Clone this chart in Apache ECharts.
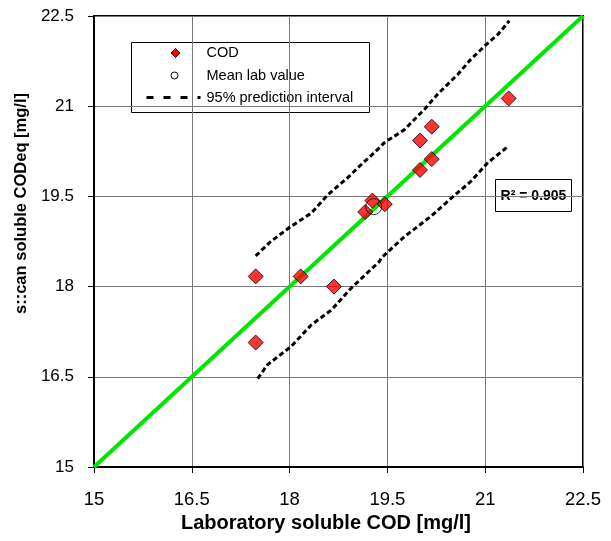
<!DOCTYPE html>
<html>
<head>
<meta charset="utf-8">
<script src="https://cdn.jsdelivr.net/npm/echarts@6/dist/echarts.min.js"></script>
<style>
  html, body { margin: 0; padding: 0; background: #fff; }
  #chart { width: 611px; height: 541px; }
</style>
</head>
<body>
<div id="chart"></div>
<script>
// Laboratory soluble COD vs. s::can soluble CODeq (mg/l)
const labCOD  = [17.48, 17.48, 18.17, 18.68, 19.16, 19.27, 19.46, 20.00, 20.18, 20.00, 20.18, 21.36];
const scanCOD = [18.17, 17.07, 18.17, 18.00, 19.24, 19.43, 19.37, 20.43, 20.66, 19.94, 20.12, 21.13];

// mean of the laboratory samples
const meanLab = [19.29, 19.33];

// 95 % prediction interval bounds [lab, scan]
const upperPI = [
  [17.48, 18.51], [17.71, 18.75], [18.02, 19.00], [18.33, 19.22], [18.59, 19.53],
  [18.89, 19.81], [19.10, 20.03], [19.38, 20.31], [19.45, 20.39], [19.76, 20.61],
  [20.07, 20.95], [20.27, 21.20], [20.58, 21.53], [20.78, 21.78], [21.02, 22.03],
  [21.20, 22.20], [21.37, 22.42]
];
const lowerPI = [
  [17.51, 16.47], [17.66, 16.70], [18.02, 17.00], [18.33, 17.36], [18.64, 17.61],
  [18.94, 17.97], [19.38, 18.42], [19.40, 18.47], [19.76, 18.83], [20.17, 19.17],
  [20.48, 19.47], [20.78, 19.75], [21.04, 20.06], [21.35, 20.33]
];

// 1:1 reference line end points
const identityEnds = [15, 22.5];

// axis range and tick spacing
const axisMin = 15, axisMax = 22.5, axisStep = 1.5;

const rSquared = '0.905';

const FONT = 'Liberation Sans, Arial, sans-serif';

const chart = echarts.init(document.getElementById('chart'), null, { renderer: 'canvas' });

const axisCommon = {
  type: 'value',
  min: axisMin,
  max: axisMax,
  interval: axisStep,
  axisLine: { show: true, onZero: false, lineStyle: { color: '#000', width: 2 } },
  axisTick: { show: true, inside: false, length: 6, lineStyle: { color: '#000', width: 1 } },
  splitLine: { show: true, lineStyle: { color: '#7a7a7a', width: 1 } },
  nameLocation: 'middle'
};

chart.setOption({
  animation: false,
  backgroundColor: '#fff',
  grid: {
    left: 94, right: 28, top: 16, bottom: 74,
    show: true, borderColor: '#000', borderWidth: 2, backgroundColor: 'transparent'
  },
  xAxis: Object.assign({}, axisCommon, {
    name: 'Laboratory soluble COD [mg/l]',
    nameGap: 40,
    nameTextStyle: { fontFamily: FONT, fontSize: 20, fontWeight: 'bold', color: '#000', padding: [0, 25, 0, 0] },
    axisLabel: { fontFamily: FONT, fontSize: 18.5, color: '#000', margin: 23 }
  }),
  yAxis: Object.assign({}, axisCommon, {
    name: 's::can soluble CODeq [mg/l]',
    nameGap: 60,
    nameTextStyle: { fontFamily: FONT, fontSize: 16.5, fontWeight: 'bold', color: '#000', padding: [0, 0, 0, 76] },
    axisLabel: { fontFamily: FONT, fontSize: 17, color: '#000', margin: 20 }
  }),
  series: [
    {
      name: '95% prediction interval',
      type: 'line',
      data: upperPI,
      showSymbol: false,
      lineStyle: { color: '#000', width: 3, type: [5, 3] },
      z: 2
    },
    {
      name: '95% prediction interval (lower)',
      type: 'line',
      data: lowerPI,
      showSymbol: false,
      lineStyle: { color: '#000', width: 3, type: [5, 3] },
      z: 2
    },
    {
      name: '1:1',
      type: 'line',
      data: identityEnds.map(v => [v, v]),
      showSymbol: false,
      lineStyle: { color: '#00e600', width: 4 },
      z: 3
    },
    {
      name: 'COD',
      type: 'scatter',
      data: labCOD.map((v, i) => [v, scanCOD[i]]),
      symbol: 'diamond',
      symbolSize: 15,
      itemStyle: { color: '#ff0000', borderColor: '#000', borderWidth: 1 },
      z: 4
    },
    {
      name: 'Mean lab value',
      type: 'scatter',
      data: [meanLab],
      symbol: 'circle',
      symbolSize: 16,
      itemStyle: { color: 'rgba(0,0,0,0)', borderColor: '#000', borderWidth: 1 },
      z: 5
    }
  ],
  graphic: [
    // legend box
    {
      type: 'group', left: 131, top: 42, z: 10,
      children: [
        { type: 'rect', shape: { x: 0, y: 0, width: 238, height: 70 },
          style: { fill: '#fff', stroke: '#000', lineWidth: 1 } },
        { type: 'polygon', shape: { points: [[44, 6], [48.5, 10.5], [44, 15], [39.5, 10.5]] },
          style: { fill: '#ff0000', stroke: '#000', lineWidth: 1 } },
        { type: 'circle', shape: { cx: 43, cy: 33, r: 3.5 },
          style: { fill: '#fff', stroke: '#000', lineWidth: 1 } },
        { type: 'line', shape: { x1: 15, y1: 55, x2: 69, y2: 55 },
          style: { stroke: '#000', lineWidth: 3, lineDash: [7, 10] } },
        { type: 'text', x: 75, y: 10.5,
          style: { text: 'COD', font: '14.5px ' + FONT, fill: '#000', verticalAlign: 'middle' } },
        { type: 'text', x: 75, y: 33,
          style: { text: 'Mean lab value', font: '14.5px ' + FONT, fill: '#000', verticalAlign: 'middle' } },
        { type: 'text', x: 75, y: 55,
          style: { text: '95% prediction interval', font: '14.5px ' + FONT, fill: '#000', verticalAlign: 'middle' } }
      ]
    },
    // coefficient of determination
    {
      type: 'group', left: 495, top: 179, z: 10,
      children: [
        { type: 'rect', shape: { x: 0, y: 0, width: 76, height: 32 },
          style: { fill: '#fff', stroke: '#000', lineWidth: 1 } },
        { type: 'text', x: 38, y: 17,
          style: {
            text: 'R\u00b2 = ' + rSquared,
            font: 'bold 14px ' + FONT, fill: '#000',
            align: 'center', verticalAlign: 'middle'
          } }
      ]
    }
  ]
});
</script>
</body>
</html>
